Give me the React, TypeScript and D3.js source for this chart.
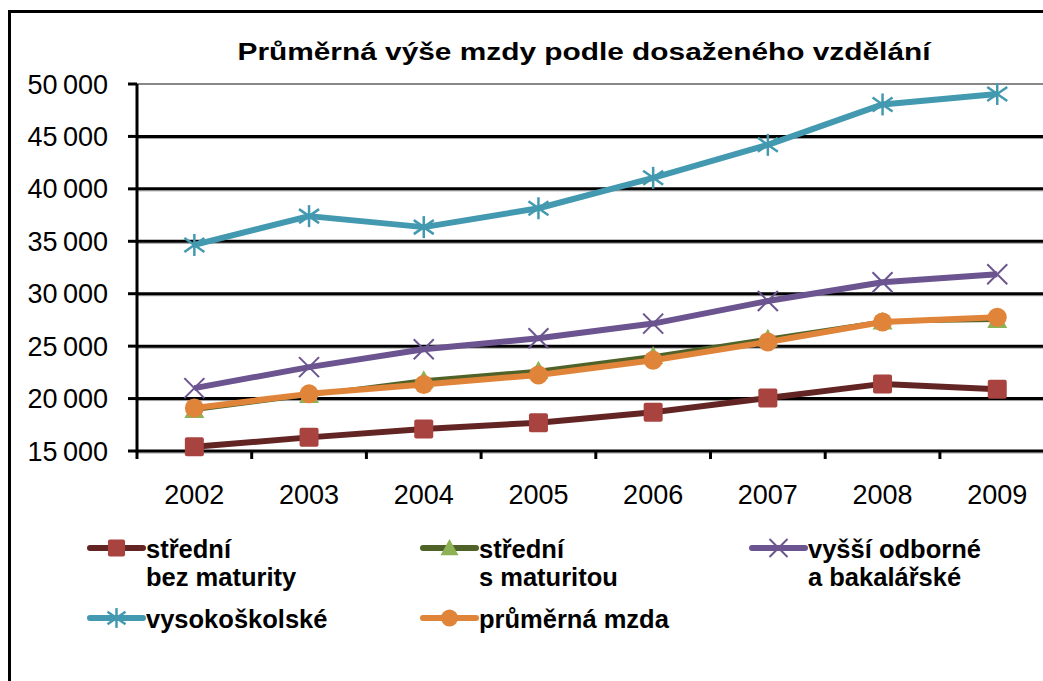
import React from "react";
import * as d3 from "d3";

const years = ["2002", "2003", "2004", "2005", "2006", "2007", "2008", "2009"];
const bezMaturity = [15400, 16300, 17100, 17700, 18700, 20050, 21400, 20900];
const sMaturitou = [18900, 20350, 21750, 22650, 24050, 25700, 27350, 27500];
const vyssiOdborne = [21000, 23000, 24700, 25750, 27150, 29300, 31100, 31850];
const vysokoskolske = [34650, 37400, 36350, 38150, 41050, 44200, 48050, 49050];
const prumernaMzda = [19100, 20450, 21350, 22250, 23650, 25400, 27300, 27750];
const yTicks = [15000, 20000, 25000, 30000, 35000, 40000, 45000, 50000];
const title = "Průměrná výše mzdy podle dosaženého vzdělání";

type Marker = "square" | "triangle" | "x" | "star" | "circle";
interface Series {
  key: string;
  label: string[];
  values: number[];
  line: string;
  fill: string;
  width: number;
  marker: Marker;
}

const series: Series[] = [
  { key: "bez", label: ["střední", "bez maturity"], values: bezMaturity, line: "#632523", fill: "#A8433F", width: 6, marker: "square" },
  { key: "s", label: ["střední", "s maturitou"], values: sMaturitou, line: "#4F6228", fill: "#8DB255", width: 4, marker: "triangle" },
  { key: "vyssi", label: ["vyšší odborné", "a bakalářské"], values: vyssiOdborne, line: "#6B548F", fill: "#6B548F", width: 6, marker: "x" },
  { key: "vs", label: ["vysokoškolské"], values: vysokoskolske, line: "#4399B0", fill: "#4399B0", width: 6, marker: "star" },
  { key: "avg", label: ["průměrná mzda"], values: prumernaMzda, line: "#E0843A", fill: "#E0843A", width: 6, marker: "circle" },
];

const fmt = d3.formatLocale({ decimal: ",", thousands: "\u2009", grouping: [3], currency: ["", ""] }).format(",");

function MarkerShape({ type, x, y, color, s = 1 }: { type: Marker; x: number; y: number; color: string; s?: number }) {
  if (type === "square") {
    const h = 9.5 * s;
    return <rect x={x - h} y={y - h} width={2 * h} height={2 * h} rx={2} fill={color} />;
  }
  if (type === "circle") {
    return <circle cx={x} cy={y} r={9.5 * s} fill={color} />;
  }
  if (type === "triangle") {
    const h = 10 * s;
    return <path d={`M${x},${y - h} L${x + h},${y + h * 0.8} L${x - h},${y + h * 0.8} Z`} fill={color} />;
  }
  if (type === "x") {
    const h = 10 * s;
    return (
      <g stroke={color} strokeWidth={2}>
        <line x1={x - h} y1={y - h} x2={x + h} y2={y + h} />
        <line x1={x - h} y1={y + h} x2={x + h} y2={y - h} />
      </g>
    );
  }
  const h = 10 * s;
  return (
    <g stroke={color} strokeWidth={2.5}>
      <line x1={x} y1={y - h * 1.1} x2={x} y2={y + h * 1.1} />
      <line x1={x - h} y1={y - h * 0.7} x2={x + h} y2={y + h * 0.7} />
      <line x1={x - h} y1={y + h * 0.7} x2={x + h} y2={y - h * 0.7} />
    </g>
  );
}

export default function App() {
  const W = 1043;
  const H = 681;
  const left = 137;
  const x = d3.scalePoint<string>().domain(years).range([left, left + 8 * 114.7]).padding(0.5);
  const y = d3.scaleLinear().domain([15000, 50000]).range([451, 84]);
  const line = d3
    .line<number>()
    .x((_, i) => x(years[i]) as number)
    .y((d) => y(d));
  const step = x.step();
  const xTickPos = d3.range(0, 9).map((i) => left + i * step);

  const legendPos = [
    { x: 90, y: 548 },
    { x: 423, y: 548 },
    { x: 752, y: 548 },
    { x: 90, y: 618 },
    { x: 423, y: 618 },
  ];

  return (
    <svg width={W} height={H} style={{ position: "absolute", left: 0, top: 0, background: "#fff" }} fontFamily="'Liberation Sans', Arial, sans-serif">
      <rect x={0} y={0} width={W} height={H} fill="#fff" />
      {/* outer frame */}
      <line x1={9.5} y1={10} x2={9.5} y2={H} stroke="#000" strokeWidth={3} />
      <line x1={8} y1={11.5} x2={W} y2={11.5} stroke="#000" strokeWidth={3} />

      <text x={584} y={60} textAnchor="middle" fontSize={23} fontWeight="bold" textLength={693} lengthAdjust="spacingAndGlyphs">
        {title}
      </text>

      {/* gridlines */}
      {yTicks.map((t) =>
        t === 50000 ? (
          <line key={t} x1={left} x2={W} y1={y(t)} y2={y(t)} stroke="#888" strokeWidth={2} />
        ) : (
          <g key={t}>
            <line x1={left} x2={W} y1={y(t) + 2} y2={y(t) + 2} stroke="#9a9a9a" strokeWidth={1} />
            <line x1={left} x2={W} y1={y(t)} y2={y(t)} stroke="#000" strokeWidth={3} />
          </g>
        )
      )}
      {/* y axis */}
      <line x1={left} x2={left} y1={y(50000)} y2={y(15000) + 1.5} stroke="#000" strokeWidth={3} />
      {yTicks.map((t) => (
        <g key={"yt" + t}>
          <line x1={128} x2={left} y1={y(t)} y2={y(t)} stroke="#000" strokeWidth={3} />
          <text x={108} y={y(t) + 9.5} textAnchor="end" fontSize={27}>
            {fmt(t)}
          </text>
        </g>
      ))}
      {/* x ticks */}
      {xTickPos.map((p, i) => (
        <line key={"xt" + i} x1={p} x2={p} y1={y(15000)} y2={y(15000) + 8} stroke="#000" strokeWidth={3} />
      ))}
      {years.map((yr) => (
        <text key={yr} x={x(yr)} y={504} textAnchor="middle" fontSize={27}>
          {yr}
        </text>
      ))}

      {/* series */}
      {series.map((s) => (
        <g key={s.key}>
          <path d={line(s.values) || ""} fill="none" stroke={s.line} strokeWidth={s.width} strokeLinejoin="round" />
          {s.values.map((v, i) => (
            <MarkerShape key={i} type={s.marker} x={x(years[i]) as number} y={y(v)} color={s.fill} />
          ))}
        </g>
      ))}

      {/* legend */}
      {series.map((s, i) => {
        const p = legendPos[i];
        return (
          <g key={"lg" + s.key}>
            <line x1={p.x} x2={p.x + 53} y1={p.y} y2={p.y} stroke={s.line} strokeWidth={6} strokeLinecap="round" />
            <MarkerShape type={s.marker} x={p.x + 26.5} y={p.y} color={s.fill} s={0.9} />
            {s.label.map((l, j) => (
              <text key={j} x={p.x + 56} y={p.y + 10 + j * 28} fontSize={25.5} fontWeight="bold">
                {l}
              </text>
            ))}
          </g>
        );
      })}
    </svg>
  );
}
